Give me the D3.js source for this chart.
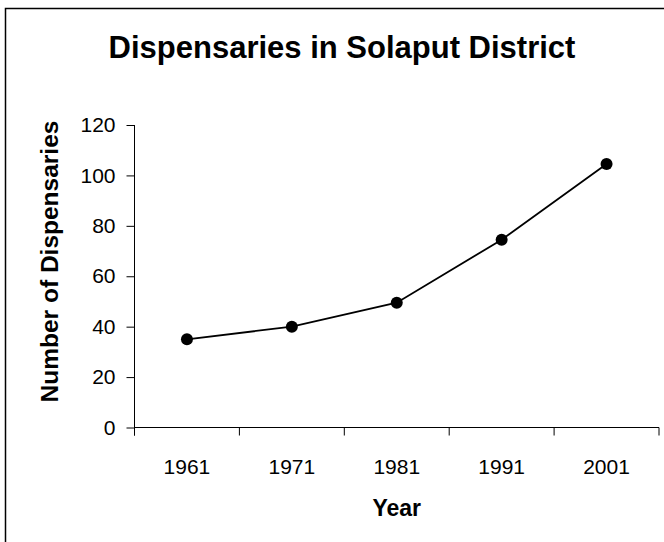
<!DOCTYPE html>
<html>
<head>
<meta charset="utf-8">
<script src="https://cdn.jsdelivr.net/npm/d3@7"></script>
<style>
  html, body { margin: 0; padding: 0; background: #fff; }
  svg { display: block; font-family: "Liberation Sans", Arial, sans-serif; }
</style>
</head>
<body>
<svg id="chart" width="664" height="542"></svg>
<script>
// Dispensaries counted at each census year
const years = ["1961", "1971", "1981", "1991", "2001"];
const dispensaries = [35, 40, 49.5, 74.5, 104.5];
const yTicks = [0, 20, 40, 60, 80, 100, 120];

const svg = d3.select("#chart");
const W = 664, H = 542;
const plot = { left: 134.5, right: 659, top: 125, bottom: 427.5 };

// Outer chart frame (right and bottom edges run past the page)
svg.append("rect")
  .attr("x", 5.5).attr("y", 8.5)
  .attr("width", W + 10).attr("height", H + 10)
  .attr("fill", "#fff")
  .attr("stroke", "#000").attr("stroke-width", 1.5);

const x = d3.scaleBand().domain(years).range([plot.left, plot.right]).padding(0);
const y = d3.scaleLinear().domain([0, 120]).range([plot.bottom, plot.top]);

// Title
svg.append("text")
  .attr("x", 342).attr("y", 57.5)
  .attr("text-anchor", "middle")
  .attr("font-size", 31).attr("font-weight", "bold")
  .text("Dispensaries in Solaput District");

// Y axis
const yAxis = svg.append("g")
  .attr("transform", `translate(${plot.left},0)`)
  .call(d3.axisLeft(y).tickValues(yTicks).tickSize(8).tickPadding(11).tickSizeOuter(0));
yAxis.select(".domain").remove();
yAxis.append("line")
  .attr("x1", 0).attr("x2", 0)
  .attr("y1", plot.top).attr("y2", plot.bottom + 8)
  .attr("stroke", "#000");
yAxis.selectAll(".tick line").attr("stroke", "#000");
yAxis.selectAll(".tick text")
  .attr("font-size", 21).attr("font-family", "Liberation Sans, Arial, sans-serif")
  .attr("fill", "#000");

// X axis: ticks sit on category boundaries, labels at category centres
const xAxisG = svg.append("g").attr("transform", `translate(0,${plot.bottom})`);
xAxisG.append("line")
  .attr("x1", plot.left).attr("x2", plot.right)
  .attr("y1", 0).attr("y2", 0)
  .attr("stroke", "#000");
const bounds = years.map(d => x(d)).concat([x(years[years.length - 1]) + x.bandwidth()]);
xAxisG.selectAll("line.bound")
  .data(bounds)
  .join("line")
  .attr("class", "bound")
  .attr("x1", d => d).attr("x2", d => d)
  .attr("y1", 0).attr("y2", 8)
  .attr("stroke", "#000");
xAxisG.selectAll("text.cat")
  .data(years)
  .join("text")
  .attr("class", "cat")
  .attr("x", d => x(d) + x.bandwidth() / 2)
  .attr("y", 46)
  .attr("text-anchor", "middle")
  .attr("font-size", 21)
  .text(d => d);

// Axis titles
svg.append("text")
  .attr("x", (plot.left + plot.right) / 2).attr("y", 516)
  .attr("text-anchor", "middle")
  .attr("font-size", 23).attr("font-weight", "bold")
  .text("Year");

svg.append("text")
  .attr("transform", "translate(57.5,261.5) rotate(-90)")
  .attr("text-anchor", "middle")
  .attr("font-size", 24.5).attr("font-weight", "bold")
  .text("Number of Dispensaries");

// Series line and markers
const pts = years.map((d, i) => [x(d) + x.bandwidth() / 2, y(dispensaries[i])]);
svg.append("path")
  .attr("d", d3.line()(pts))
  .attr("fill", "none")
  .attr("stroke", "#000")
  .attr("stroke-width", 1.8);
svg.selectAll("circle.pt")
  .data(pts)
  .join("circle")
  .attr("class", "pt")
  .attr("cx", d => d[0]).attr("cy", d => d[1])
  .attr("r", 6)
  .attr("fill", "#000");
</script>
</body>
</html>
